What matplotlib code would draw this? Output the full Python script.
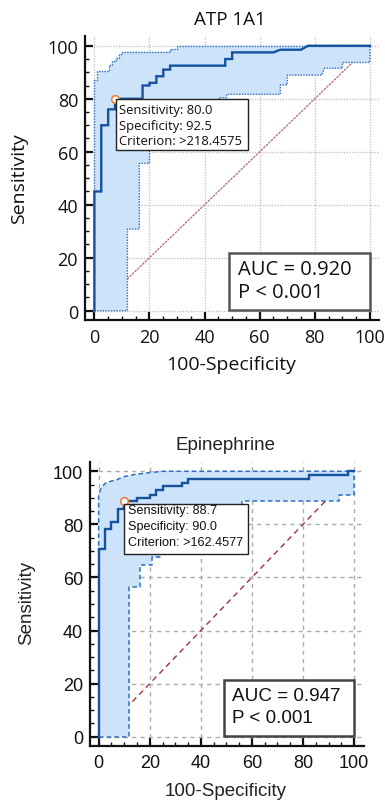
import matplotlib
matplotlib.use("Agg")
import matplotlib.pyplot as plt
from matplotlib.patches import Rectangle
from matplotlib.ticker import MultipleLocator
import numpy as np

# ---------------- ATP1A1 ----------------
atp_fpr = [0, 0, 2.5, 2.5, 5, 5, 7.5, 7.5, 17.5, 17.5, 20, 20, 22.5, 22.5, 25, 25,
           27.5, 27.5, 47.5, 47.5, 50, 50, 65, 67.5, 75, 77.5, 100]
atp_sens = [0, 45, 45, 70, 70, 76, 76, 80, 80, 85, 85, 86, 86, 88.5, 88.5, 91,
            91, 92.5, 92.5, 95, 95, 97.5, 97.5, 98.5, 98.5, 100, 100]
atp_up_x = [0, 0, 1, 1, 5.3, 5.3, 6.3, 6.3, 7.8, 7.8, 8.8, 8.8, 10, 10, 27.5, 27.5, 30, 30, 100]
atp_up_y = [0, 87, 87, 90.5, 90.5, 92.7, 92.7, 94.2, 94.2, 95.5, 95.5, 96.8, 96.8, 97.8,
            97.8, 98.8, 98.8, 100, 100]
atp_lo_x = [0, 12, 12, 16.3, 16.3, 20, 20, 24, 24, 30, 30, 36, 36, 45.3, 45.3, 48, 48,
            67.5, 67.5, 70, 70, 82.5, 83.5, 90, 90, 100, 100]
atp_lo_y = [0, 0, 30.8, 30.8, 55.6, 55.6, 62, 62, 68, 68, 74, 74, 78, 78, 80.4, 80.4,
            81.7, 81.7, 85.2, 85.2, 88.9, 88.9, 91.5, 91.5, 93.7, 93.7, 100]
atp_cut = (7.5, 80.0)
atp_info = ["Sensitivity: 80.0", "Specificity: 92.5", "Criterion: >218.4575"]
atp_auc = ["AUC = 0.920", "P < 0.001"]

# ---------------- Epinephrine ----------------
epi_fpr = [0, 0, 2.5, 2.5, 5, 5, 7.5, 7.5, 10, 10, 15, 15, 20, 20, 22.5, 22.5, 25, 25,
           32.5, 32.5, 35, 35, 82.5, 82.5, 97.5, 97.5, 100]
epi_sens = [0, 70.7, 70.7, 78.3, 78.3, 81, 81, 85.8, 85.8, 88.7, 88.7, 89.8, 89.8, 91.1,
            91.1, 93.1, 93.1, 94.6, 94.6, 95.6, 95.6, 97.1, 97.1, 98.6, 98.6, 100, 100]
epi_up_x = [0, 0, 1, 3, 7, 10, 14, 20, 25, 100]
epi_up_y = [0, 91, 94, 95.8, 96.8, 98, 98.8, 99.5, 100, 100]
epi_lo_x = [0, 12, 12, 16, 16, 20.7, 20.7, 24, 24, 30, 30, 38, 38, 46, 46, 56, 56,
            94.3, 94.3, 100, 100]
epi_lo_y = [0, 0, 56.5, 56.5, 64.8, 64.8, 67.6, 67.6, 72, 72, 78, 78, 83, 83, 86.5,
            86.5, 88.9, 88.9, 91.1, 91.1, 100]
epi_cut = (10.0, 88.7)
epi_info = ["Sensitivity: 88.7", "Specificity: 90.0", "Criterion: >162.4577"]
epi_auc = ["AUC = 0.947", "P < 0.001"]

W, H = 385, 804
fig = plt.figure(figsize=(W / 100, H / 100), dpi=100)


def panel(rect, xlim, ylim, fpr, sens, upx, upy, lox, loy, cut, info, auc,
          font, grid_style, ci_style, diag_style, tick_fs,
          info_box, info_x, info_ys, info_fs, auc_box, auc_x, auc_ys, auc_fs,
          auc_ec):
    ax = fig.add_axes(rect)
    ax.set_xlim(*xlim)
    ax.set_ylim(*ylim)
    for s in ("top", "right"):
        ax.spines[s].set_visible(False)
    for s in ("left", "bottom"):
        ax.spines[s].set_linewidth(1.6)
        ax.spines[s].set_color("#111111")
    ax.set_xticks(np.arange(0, 101, 20))
    ax.set_yticks(np.arange(0, 101, 20))
    ax.xaxis.set_minor_locator(MultipleLocator(5))
    ax.yaxis.set_minor_locator(MultipleLocator(5))
    ax.tick_params(which="major", direction="in", length=5.5, width=1.6,
                   color="#111111", labelsize=tick_fs, labelcolor="#111111")
    ax.tick_params(which="minor", direction="in", length=3, width=1.0,
                   color="#111111")
    ax.tick_params(axis="x", which="major", pad=6)
    ax.tick_params(axis="y", which="major", pad=5)
    for lab in ax.get_xticklabels() + ax.get_yticklabels():
        lab.set_family(font)
    ax.set_axisbelow(True)
    ax.grid(True, which="major", **grid_style, zorder=0)

    # chance line (hidden where the confidence band covers it)
    ax.plot([0, 100], [0, 100], zorder=1, **diag_style)
    # confidence band
    bx = list(upx) + list(lox[::-1])
    by = list(upy) + list(loy[::-1])
    ax.fill(bx, by, color="#cce3f9", lw=0, zorder=2)
    ax.plot(upx, upy, zorder=3, **ci_style)
    ax.plot(lox, loy, zorder=3, **ci_style)
    # ROC curve
    ax.plot(fpr, sens, color="#1652a0", lw=1.7, zorder=4, solid_joinstyle="miter")
    ax.plot(*cut, "o", ms=5.5, mfc="white", mec="#f07a30", mew=1.1, zorder=6)

    # criterion box
    x0, y0, x1, y1 = info_box
    ax.add_patch(Rectangle((x0, y0), x1 - x0, y1 - y0, fc="white", ec="#222222",
                           lw=1.0, zorder=7))
    for t, yy in zip(info, info_ys):
        ax.text(info_x, yy, t, fontsize=info_fs, family=font, va="center",
                ha="left", color="#111111", zorder=8)
    # AUC box
    x0, y0, x1, y1 = auc_box
    ax.add_patch(Rectangle((x0, y0), x1 - x0, y1 - y0, fc="white", ec=auc_ec,
                           lw=1.8, zorder=7, clip_on=False))
    for t, yy in zip(auc, auc_ys):
        ax.text(auc_x, yy, t, fontsize=auc_fs, family=font, va="center",
                ha="left", color="#111111", zorder=8)
    return ax


top_font = ["Open Sans", "DejaVu Sans"]
bot_font = ["Liberation Sans", "DejaVu Sans"]

panel([85 / W, 1 - 320.7 / H, (379 - 85) / W, (320.7 - 36.7) / H],
      (-3.4, 103.3), (-3.4, 103.8),
      atp_fpr, atp_sens, atp_up_x, atp_up_y, atp_lo_x, atp_lo_y, atp_cut,
      atp_info, atp_auc, top_font,
      dict(color="#c4c4c4", lw=1.0, ls=(0, (1, 1))),
      dict(color="#2f6fc0", lw=1.0, ls=(0, (1, 1))),
      dict(color="#b06878", lw=0.9, ls=(0, (2, 0.8))),
      13,
      (7.8, 60.6, 55.9, 80.0), 9.1, (76.1, 70.0, 64.4), 9.4,
      (49.0, 0.3, 100.2, 21.8), 52.2, (15.7, 7.2), 14.5, "#555555")

panel([90 / W, 1 - 746.7 / H, (364 - 90) / W, (746.7 - 463) / H],
      (-3.4, 103.9), (-3.4, 103.5),
      epi_fpr, epi_sens, epi_up_x, epi_up_y, epi_lo_x, epi_lo_y, epi_cut,
      epi_info, epi_auc, bot_font,
      dict(color="#ababab", lw=1.0, ls=(0, (3, 3))),
      dict(color="#2f6fc0", lw=1.1, ls=(0, (3, 2))),
      dict(color="#a03038", lw=1.0, ls=(0, (4, 3))),
      13,
      (10.0, 68.8, 58.6, 87.7), 11.4, (85.5, 79.3, 73.2), 9.1,
      (49.2, 0.15, 100.0, 21.5), 52.3, (15.4, 7.3), 13.6, "#444444")

# titles and axis labels
fig.text(230 / W, 1 - 20 / H, "ATP 1A1", fontsize=13.5, family=top_font,
         ha="center", va="center", color="#111111")
fig.text(231 / W, 1 - 365 / H, "100-Specificity", fontsize=14, family=top_font,
         ha="center", va="center", color="#111111")
fig.text(19.5 / W, 1 - 178.7 / H, "Sensitivity", fontsize=14, family=top_font,
         ha="center", va="center", rotation=90, color="#111111")

fig.text(225.5 / W, 1 - 446 / H, "Epinephrine", fontsize=13.5, family=bot_font,
         ha="center", va="center", color="#222222")
fig.text(225.5 / W, 1 - 791.7 / H, "100-Specificity", fontsize=13.5, family=bot_font,
         ha="center", va="center", color="#222222")
fig.text(27 / W, 1 - 603 / H, "Sensitivity", fontsize=13.5, family=bot_font,
         ha="center", va="center", rotation=90, color="#222222")

fig.savefig("out.png", dpi=100, facecolor="white")
